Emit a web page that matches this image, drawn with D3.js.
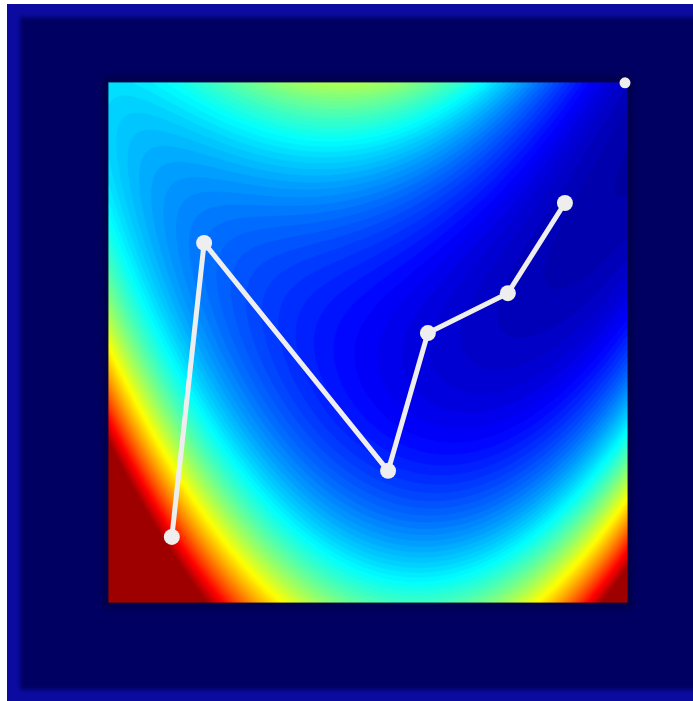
<!DOCTYPE html>
<html>
<head>
<meta charset="utf-8">
<script src="https://cdn.jsdelivr.net/npm/d3@7"></script>
<style>
  html, body { margin: 0; padding: 0; background: #ffffff; overflow: hidden; }
  svg { display: block; }
</style>
</head>
<body>
<svg id="chart" width="693" height="701"></svg>
<script>
// Descent path over the banana surface f(x, y) = (a - x)^2 + b (y - x^2)^2
const pathX = [-0.556, -0.470, 0.020, 0.126, 0.339, 0.491];
const pathY = [-0.421, 0.264, -0.267, 0.054, 0.147, 0.357];
const targetX = [0.651];
const targetY = [0.637];

const xDomain = [-0.726, 0.659];
const yDomain = [-0.575, 0.639];
const surfaceA = 1;
const surfaceB = 8.654;
const levelTop = 7.923;     // surface value drawn at the top of the colour ramp
const levelGamma = 1.217;   // power applied between surface value and colour
const levelFloor = 0.03;
const levelCount = 80;

const W = 693, H = 701;
const plot = { left: 108, right: 628, top: 82, bottom: 603 };

const svg = d3.select("#chart");
const defs = svg.append("defs");

const soft = defs.append("filter").attr("id", "soft")
  .attr("x", "-5%").attr("y", "-5%").attr("width", "110%").attr("height", "110%");
soft.append("feGaussianBlur").attr("stdDeviation", 2);

const halo = defs.append("filter").attr("id", "halo")
  .attr("x", "-10%").attr("y", "-10%").attr("width", "120%").attr("height", "120%");
halo.append("feGaussianBlur").attr("stdDeviation", 3);

// frame
svg.append("rect").attr("x", 7).attr("y", 4).attr("width", W).attr("height", H)
  .attr("fill", "#0b0ba2");
svg.append("rect").attr("x", 20).attr("y", 17).attr("width", W).attr("height", 673)
  .attr("fill", "#020264").attr("filter", "url(#soft)");

// jet colour ramp
function jet(t) {
  t = Math.max(0, Math.min(0.97, t));
  const c = v => Math.round(255 * Math.max(0, Math.min(1, v)));
  const r = c(1.5 - Math.abs(4 * t - 3));
  const g = c(1.5 - Math.abs(4 * t - 2));
  const b = c(1.5 - Math.abs(4 * t - 1));
  return `rgb(${r},${g},${b})`;
}

const x = d3.scaleLinear().domain(xDomain).range([plot.left, plot.right]);
const y = d3.scaleLinear().domain(yDomain).range([plot.bottom, plot.top]);
const level = d3.scalePow().exponent(levelGamma).domain([0, levelTop]).range([levelFloor, 1 + levelFloor]);
const color = d3.scaleSequential(jet).domain([0, 1]);

function surface(px, py) {
  return (surfaceA - px) ** 2 + surfaceB * (py - px * px) ** 2;
}

// sample the surface on a grid and trace filled contour bands
const n = 260, m = 260;
const values = new Float64Array(n * m);
for (let j = 0; j < m; j++) {
  const py = yDomain[1] - (j + 0.5) / m * (yDomain[1] - yDomain[0]);
  for (let i = 0; i < n; i++) {
    const px = xDomain[0] + (i + 0.5) / n * (xDomain[1] - xDomain[0]);
    values[j * n + i] = level(surface(px, py));
  }
}
const step = 1 / levelCount;
const thresholds = d3.range(0, levelCount).map(k => k * step);
const bands = d3.contours().size([n, m]).thresholds(thresholds)(values);

const gridToScreen = d3.geoTransform({
  point: function (gx, gy) {
    const px = xDomain[0] + gx / n * (xDomain[1] - xDomain[0]);
    const py = yDomain[1] - gy / m * (yDomain[1] - yDomain[0]);
    this.stream.point(x(px), y(py));
  }
});
const geo = d3.geoPath(gridToScreen);

// dark halo round the surface panel
svg.append("rect")
  .attr("x", plot.left - 2).attr("y", plot.top - 2)
  .attr("width", plot.right - plot.left + 4).attr("height", plot.bottom - plot.top + 4)
  .attr("fill", "none").attr("stroke", "#000038").attr("stroke-width", 4)
  .attr("filter", "url(#halo)");

defs.append("clipPath").attr("id", "panel").append("rect")
  .attr("x", plot.left).attr("y", plot.top)
  .attr("width", plot.right - plot.left).attr("height", plot.bottom - plot.top);

svg.append("g").attr("clip-path", "url(#panel)")
  .selectAll("path").data(bands).join("path")
  .attr("d", geo)
  .attr("fill", d => color(d.value + step / 2))
  .attr("stroke", d => color(d.value + step / 2))
  .attr("stroke-width", 0.6);

svg.append("rect")
  .attr("x", plot.left).attr("y", plot.top)
  .attr("width", plot.right - plot.left).attr("height", plot.bottom - plot.top)
  .attr("fill", "none").attr("stroke", "#05053a").attr("stroke-width", 1.2).attr("stroke-opacity", 0.7);

// descent path
const pts = pathX.map((v, i) => [v, pathY[i]]);
const line = d3.line().x(d => x(d[0])).y(d => y(d[1]));
const ink = "#eeeeee";

svg.append("path").attr("d", line(pts))
  .attr("fill", "none").attr("stroke", ink).attr("stroke-width", 5)
  .attr("stroke-linejoin", "round").attr("stroke-linecap", "round");

svg.append("g").selectAll("circle").data(pts).join("circle")
  .attr("cx", d => x(d[0])).attr("cy", d => y(d[1])).attr("r", 8)
  .attr("fill", ink);

svg.append("g").selectAll("circle").data(targetX.map((v, i) => [v, targetY[i]])).join("circle")
  .attr("cx", d => x(d[0])).attr("cy", d => y(d[1])).attr("r", 5.5)
  .attr("fill", ink);
</script>
</body>
</html>
